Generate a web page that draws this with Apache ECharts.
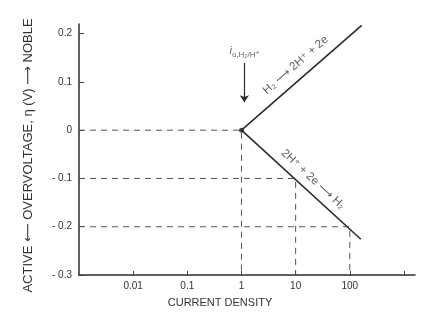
<!DOCTYPE html>
<html>
<head>
<meta charset="utf-8">
<script src="https://cdn.jsdelivr.net/npm/echarts@6/dist/echarts.min.js"></script>
<style>
  html, body { margin: 0; padding: 0; background: #fff; }
  #chart { width: 448px; height: 318px; }
</style>
</head>
<body>
<div id="chart"></div>
<script>
// current density ticks (log axis) and overvoltage ticks
var xTicks = [0.01, 0.1, 1, 10, 100, 1000];
var xTickLabels = ['0.01', '0.1', '1', '10', '100', ''];
var yTicks = [-0.3, -0.2, -0.1, 0, 0.1, 0.2];
var yTickLabels = ['- 0.3', '- 0.2', '- 0.1', '0', '0.1', '0.2'];

// Tafel lines
var anodic = [[1, 0], [166, 0.217]];
var cathodic = [[1, 0], [160, -0.226]];

// dashed guide lines: current density -> overvoltage on the cathodic branch
var guideX = [1, 10, 100];
var guideY = [0, -0.1, -0.2];

// exchange current density marker and its arrow
var i0Point = [[1, 0]];
var i0Arrow = [[1.13, 0.139], [1.13, 0.058]];

var xMin = 0.001, xMax = 1600;
var yMin = -0.3, yMax = 0.22;

var ink = '#2b2b2b';
var font = 'Liberation Sans, DejaVu Sans, sans-serif';

var chart = echarts.init(document.getElementById('chart'));

// build guide series
var guideSeries = [];
guideX.forEach(function (gx, i) {
    var gy = guideY[i];
    guideSeries.push({
        type: 'line',
        data: [[xMin, gy], [gx, gy], [gx, yMin]],
        symbol: 'none',
        silent: true,
        lineStyle: { color: '#555', width: 1, type: [6, 5] },
        z: 1
    });
});

var option = {
    backgroundColor: '#fff',
    animation: false,
    grid: { left: 79, right: 33, top: 24, bottom: 43 },
    xAxis: {
        type: 'log',
        logBase: 10,
        min: xMin,
        max: xMax,
        name: 'CURRENT DENSITY',
        nameLocation: 'middle',
        nameGap: 22,
        nameTextStyle: { color: '#333', fontSize: 11, fontFamily: font, padding: [0, 54, 0, 0] },
        axisLine: { onZero: false, lineStyle: { color: ink, width: 1.5 } },
        axisTick: { inside: true, length: 4, customValues: xTicks, lineStyle: { color: '#444' } },
        axisLabel: {
            customValues: xTicks,
            color: '#333', fontSize: 10, fontFamily: font, margin: 6,
            formatter: function (v) {
                var i = xTicks.findIndex(function (t) { return Math.abs(Math.log10(t) - Math.log10(v)) < 1e-6; });
                return i >= 0 ? xTickLabels[i] : '';
            }
        },
        splitLine: { show: false }
    },
    yAxis: {
        type: 'value',
        min: yMin,
        max: yMax,
        name: 'ACTIVE \u27F5 OVERVOLTAGE, \u03B7 (V) \u27F6 NOBLE',
        nameLocation: 'middle',
        nameGap: 44,
        nameRotate: 90,
        nameTextStyle: { color: '#333', fontSize: 13, fontFamily: font, padding: [0, 12, 0, 0] },
        axisLine: { onZero: false, lineStyle: { color: ink, width: 1.5 } },
        axisTick: { show: true, inside: true, length: 5, customValues: yTicks, lineStyle: { color: '#444' } },
        axisLabel: {
            customValues: yTicks,
            color: '#333', fontSize: 10, fontFamily: font, margin: 7,
            formatter: function (v) {
                var i = yTicks.findIndex(function (t) { return Math.abs(t - v) < 1e-6; });
                return i >= 0 ? yTickLabels[i] : '';
            }
        },
        splitLine: { show: false }
    },
    series: guideSeries.concat([
        {
            type: 'line',
            data: anodic,
            symbol: 'none',
            lineStyle: { color: ink, width: 1.6 },
            z: 3
        },
        {
            type: 'line',
            data: cathodic,
            symbol: 'none',
            lineStyle: { color: ink, width: 1.6 },
            z: 3
        },
        {
            type: 'scatter',
            data: i0Point,
            symbol: 'circle',
            symbolSize: 5,
            itemStyle: { color: '#222' },
            z: 4
        },
        {
            type: 'lines',
            coordinateSystem: 'cartesian2d',
            data: [{ coords: i0Arrow }],
            symbol: ['none', 'arrow'],
            symbolSize: 7,
            lineStyle: { color: ink, width: 1.2, opacity: 1 },
            z: 4
        },
        {
            // text annotations
            type: 'scatter',
            symbolSize: 0,
            silent: true,
            data: [
                {
                    value: [1.14, 0.164],
                    label: {
                        show: true, position: 'inside',
                        formatter: '{i|i}{s|o,H\u2082/H\u207A}',
                        rich: {
                            i: { fontSize: 11, fontStyle: 'italic', color: '#333', fontFamily: font },
                            s: { fontSize: 8, color: '#333', fontFamily: font, padding: [8, 0, 0, 0] }
                        }
                    }
                },
                {
                    value: [10, 0.135],
                    label: {
                        show: true, position: 'inside', rotate: 41,
                        formatter: 'H\u2082 \u27F6 2H\u207A + 2e',
                        fontSize: 11.5, color: '#333', fontFamily: font
                    }
                },
                {
                    value: [21, -0.102],
                    label: {
                        show: true, position: 'inside', rotate: -43,
                        formatter: '2H\u207A + 2e \u27F6 H\u2082',
                        fontSize: 11.5, color: '#333', fontFamily: font
                    }
                }
            ],
            z: 5
        }
    ])
};

chart.setOption(option);
</script>
</body>
</html>
